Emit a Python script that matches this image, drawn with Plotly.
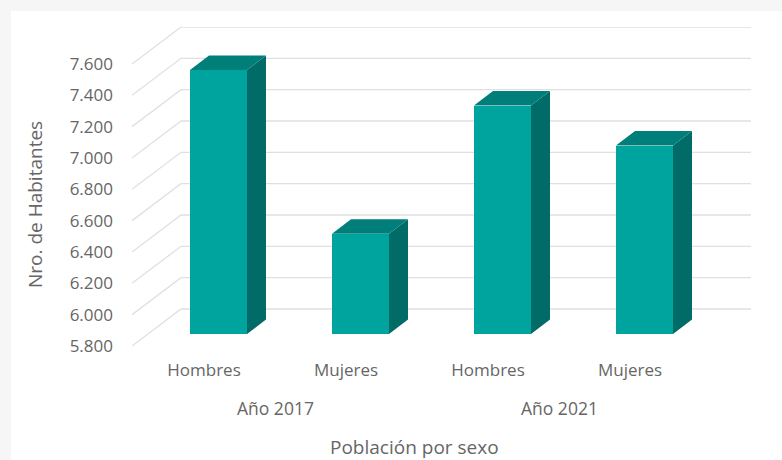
import plotly.graph_objects as go

categories = ["Hombres", "Mujeres", "Hombres", "Mujeres"]
years = ["Año 2017", "Año 2021"]
values = [7485, 6440, 7258, 7003]
y_ticks = [5800, 6000, 6200, 6400, 6600, 6800, 7000, 7200, 7400, 7600]
y_tick_labels = ["5.800", "6.000", "6.200", "6.400", "6.600", "6.800", "7.000", "7.200", "7.400", "7.600"]
x_title = "Población por sexo"
y_title = "Nro. de Habitantes"

W, H = 782, 460
L, R, T, B = 132, 751, 27, 346          # plot area in pixels
X0_PX, X_STEP = 204, 142                # category 0 and spacing
Y_STEP = (346 - 64) / (y_ticks[-1] - y_ticks[0])

# oblique projection, in data units
wall_dx, wall_dy = 49 / X_STEP, (B - T - (346 - 64)) / Y_STEP
xr = [(L - X0_PX) / X_STEP, (R - X0_PX) / X_STEP]
yr = [y_ticks[0], y_ticks[-1] + wall_dy]
bar_off, bar_w = (190 - X0_PX) / X_STEP, 57 / X_STEP
front_lift = 12 / Y_STEP                # bars stand this far back from the front edge of the floor
bar_base = y_ticks[0] + front_lift
bar_dx, bar_dy = 19 / X_STEP, 14.5 / Y_STEP

FRONT, SIDE, TOP = "#00a49e", "#006b67", "#007e79"
GRID, TEXT = "#e0e0e0", "#666666"
FONT = "Open Sans"

px_w, px_h = R - L, B - T
paper_x = lambda px: (px - L) / px_w
paper_y = lambda px: (B - px) / px_h

fig = go.Figure()

# grid drawn on the base axes: floor diagonal, then along the back wall
gx, gy = [], []
for t in y_ticks:
    gx += [xr[0], xr[0] + wall_dx, xr[1], None]
    gy += [t, t + wall_dy, t + wall_dy, None]
fig.add_trace(go.Scatter(x=gx, y=gy, mode="lines", line=dict(color=GRID, width=1.3),
                         cliponaxis=False, showlegend=False, hoverinfo="skip"))

# bars on an overlay so they sit above the grid
fig.add_trace(go.Bar(x=list(range(4)), y=[v - y_ticks[0] for v in values], base=bar_base,
                     width=bar_w, offset=bar_off, marker=dict(color=FRONT, line_width=0),
                     xaxis="x2", yaxis="y2", showlegend=False))
for i, v in enumerate(values):
    x1 = i + bar_off
    x2 = x1 + bar_w
    top = v + front_lift
    fig.add_trace(go.Scatter(x=[x2, x2 + bar_dx, x2 + bar_dx, x2, x2],
                             y=[bar_base, bar_base + bar_dy, top + bar_dy, top, bar_base],
                             mode="lines", fill="toself", fillcolor=SIDE, line=dict(width=0, color=SIDE),
                             xaxis="x2", yaxis="y2", cliponaxis=False, showlegend=False, hoverinfo="skip"))
    fig.add_trace(go.Scatter(x=[x1, x2, x2 + bar_dx, x1 + bar_dx, x1],
                             y=[top, top, top + bar_dy, top + bar_dy, top],
                             mode="lines", fill="toself", fillcolor=TOP, line=dict(width=0, color=TOP),
                             xaxis="x2", yaxis="y2", cliponaxis=False, showlegend=False, hoverinfo="skip"))

fig.add_shape(type="rect", xref="paper", yref="paper", layer="below",
              x0=paper_x(11), x1=paper_x(W), y0=paper_y(H), y1=paper_y(11),
              fillcolor="white", line_width=0)

for i, label in enumerate(years):
    fig.add_annotation(x=2 * i + 0.5, xref="x", y=paper_y(408), yref="paper", text=label,
                       xanchor="center", yanchor="middle", showarrow=False,
                       font=dict(family=FONT, size=17.5, color=TEXT))
fig.add_annotation(x=paper_x(414), xref="paper", y=paper_y(447), yref="paper", text=x_title,
                   xanchor="center", yanchor="middle", showarrow=False,
                   font=dict(family=FONT, size=19, color=TEXT))
fig.add_annotation(x=paper_x(35), xref="paper", y=paper_y(205), yref="paper", text=y_title,
                   xanchor="center", yanchor="middle", textangle=-90, showarrow=False,
                   font=dict(family=FONT, size=19, color=TEXT))

fig.update_layout(
    width=W, height=H, paper_bgcolor="#f6f6f6", plot_bgcolor="rgba(0,0,0,0)",
    margin=dict(l=L, r=W - R, t=T, b=H - B), font=dict(family=FONT, size=17, color=TEXT),
    bargap=0,
    xaxis=dict(range=xr, tickmode="array", tickvals=list(range(4)), ticktext=categories, automargin=False,
               showgrid=False, zeroline=False, showline=False, ticks="", ticklabelstandoff=12),
    yaxis=dict(range=yr, tickmode="array", tickvals=y_ticks, ticktext=y_tick_labels, automargin=False,
               showgrid=False, zeroline=False, showline=False, ticks="", ticklabelstandoff=18),
    xaxis2=dict(range=xr, overlaying="x", visible=False),
    yaxis2=dict(range=yr, overlaying="y", visible=False),
)

fig.write_html("out.html", config={"displayModeBar": False},
               post_script="document.body.style.margin='0';")
